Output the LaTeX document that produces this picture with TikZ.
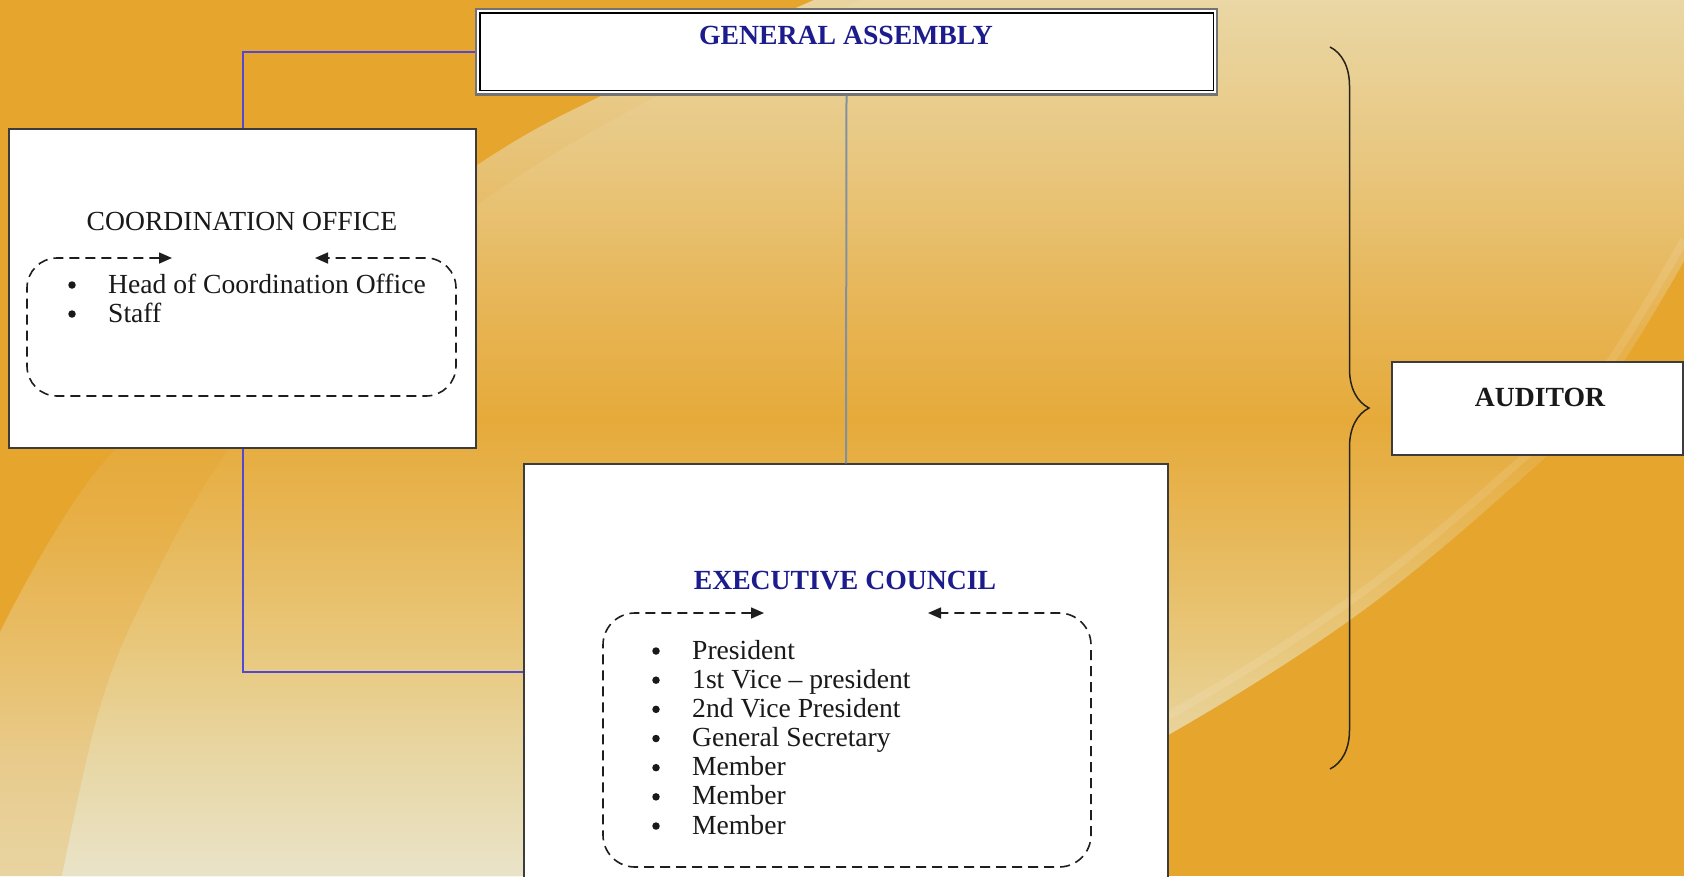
\documentclass[tikz,border=0pt]{standalone}
\usepackage{fontspec}
\setmainfont{Liberation Serif}
\usetikzlibrary{arrows.meta,decorations.pathreplacing}

\definecolor{bgor}{RGB}{230,165,45}
\definecolor{navyt}{RGB}{28,28,140}
\definecolor{txtc}{RGB}{25,25,25}
\definecolor{conn}{RGB}{82,72,210}
\definecolor{grayconn}{RGB}{130,145,160}
\definecolor{boxline}{RGB}{60,60,60}
\definecolor{dashc}{RGB}{30,30,30}
\definecolor{bracec}{RGB}{40,35,25}

% band (strip) colours, bottom (25bp) to top (75bp)
\definecolor{a25}{RGB}{232,212,162}
\definecolor{a31}{RGB}{232,203,140}
\definecolor{a37}{RGB}{232,190,105}
\definecolor{a45}{RGB}{231,175,70}
\definecolor{a51}{RGB}{230,168,55}
\definecolor{a57}{RGB}{230,178,80}
\definecolor{a66}{RGB}{231,195,120}
\definecolor{a75}{RGB}{233,212,160}
% main light region
\definecolor{b25}{RGB}{233,227,200}
\definecolor{b31}{RGB}{232,215,165}
\definecolor{b37}{RGB}{232,200,125}
\definecolor{b45}{RGB}{231,182,85}
\definecolor{b51}{RGB}{230,170,58}
\definecolor{b57}{RGB}{231,182,88}
\definecolor{b66}{RGB}{232,200,130}
\definecolor{b75}{RGB}{234,215,165}

\pgfdeclareverticalshading{shA}{100bp}{color(0bp)=(a25); color(25bp)=(a25); color(31.6bp)=(a31); color(37.9bp)=(a37); color(45.3bp)=(a45); color(51bp)=(a51); color(57.9bp)=(a57); color(66.4bp)=(a66); color(75bp)=(a75); color(100bp)=(a75)}
\pgfdeclareverticalshading{shB}{100bp}{color(0bp)=(b25); color(25bp)=(b25); color(31.6bp)=(b31); color(37.9bp)=(b37); color(45.3bp)=(b45); color(51bp)=(b51); color(57.9bp)=(b57); color(66.4bp)=(b66); color(75bp)=(b75); color(100bp)=(b75)}

\begin{document}
\begin{tikzpicture}[x=1pt,y=-1pt,
  box/.style={draw=boxline, fill=white, line width=1.4pt, inner sep=0pt},
  ttl/.style={font=\fontsize{27.7}{30}\selectfont\bfseries, text=navyt, inner sep=0pt},
  ttlk/.style={font=\fontsize{27.7}{30}\selectfont\bfseries, text=txtc, inner sep=0pt},
  txt/.style={font=\fontsize{27.6}{30}\selectfont, text=txtc, inner sep=0pt},
  bul/.style={circle, fill=txtc, inner sep=0pt, minimum size=7.5pt},
  dbox/.style={draw=dashc, line width=1.6pt, dash pattern=on 10pt off 6pt,
    rounded corners=30pt, {Triangle[length=13pt,width=11pt]}-{Triangle[length=13pt,width=11pt]}},
  link/.style={draw=conn, line width=2pt},
  glink/.style={draw=grayconn, line width=2pt}]

\useasboundingbox (0,0) rectangle (1684,876);
\clip (0,0) rectangle (1684,876);

% ---------- background ----------
\fill[bgor] (0,0) rectangle (1684,876);
\shade[shading=shA] plot[smooth,tension=0.6] coordinates {(0,632) (103,463) (280,305) (477,165) (603,95) (814,0)}
  -- (1684,0) -- plot[smooth,tension=0.6] coordinates {(1684,261) (1595,403) (1494,503) (1347,622) (1168,735) (1000,820) (880,876)}
  -- (0,876) -- cycle;
\shade[shading=shB] plot[smooth,tension=0.6] coordinates {(62,876) (100,707) (148,590) (228,450) (340,320) (477,205) (640,105) (860,0)}
  -- (1684,0) -- plot[smooth,tension=0.6] coordinates {(1684,261) (1595,403) (1494,503) (1347,622) (1168,735) (1000,820) (880,876)}
  -- cycle;
\draw[white, opacity=0.1, line width=8pt] plot[smooth,tension=0.6] coordinates {(1684,240) (1595,383) (1494,484) (1347,603) (1168,716) (1000,801)};

% ---------- boxes ----------
\node[box, draw=gray!90!black, line width=2.4pt, minimum width=741pt, minimum height=85.5pt] (ga) at (846.5,51.75) {};
\draw[black, line width=1.4pt] ([shift={(5,5)}]ga.north west) rectangle ([shift={(-5,-5)}]ga.south east);
\node[box, minimum width=467pt, minimum height=319pt] (co) at (242.5,288.5) {};
\node[box, minimum width=644pt, minimum height=416pt] (ec) at (846,672) {};
\node[box, minimum width=291pt, minimum height=93pt] (aud) at (1537.5,408.5) {};

% ---------- connectors ----------
\draw[link] (ga.west) -| (co.north);
\draw[link] (co.south) |- (ec.west);
\draw[glink] (ga.south) -- (ec.north);

% ---------- brace ----------
\coordinate (bt) at (1330,47);
\coordinate (bb) at (1330,769);
\draw[bracec, line width=1.5pt, decorate, decoration={brace, amplitude=39pt}] (bt) -- (bb);

% ---------- titles ----------
\node[ttl, anchor=base] (gat) at (846,44) {GENERAL ASSEMBLY};
\node[txt, anchor=base, font=\fontsize{27.6}{30}\selectfont] (cot) at (242,230) {COORDINATION OFFICE};
\node[ttl, anchor=base] (ect) at (845,589) {EXECUTIVE COUNCIL};
\node[ttlk, anchor=base] (audt) at (1540,406) {AUDITOR};

% ---------- dashed groups ----------
\draw[dbox] (172,258) -| (27,396) -| (456,258) -- (315,258);
\draw[dbox, rounded corners=32pt] (764,613) -| (603,867) -| (1091,613) -- (928,613);

% ---------- coordination office list ----------
\node[bul] (cob1) at (72,285) {};
\node[txt, anchor=base west] (coi1) at (108,293) {Head of Coordination Office};
\node[bul] (cob2) at (72,314) {};
\node[txt, anchor=base west] (coi2) at (108,322) {Staff};

% ---------- executive council list ----------
\foreach \t [count=\i] in {President, 1st Vice – president, 2nd Vice President, General Secretary, Member, Member, Member}{
  \node[bul] (ecb\i) at (656,{651+29.17*(\i-1)}) {};
  \node[txt, anchor=base west] (eci\i) at (692,{659+29.17*(\i-1)}) {\t};
}
\end{tikzpicture}
\end{document}
